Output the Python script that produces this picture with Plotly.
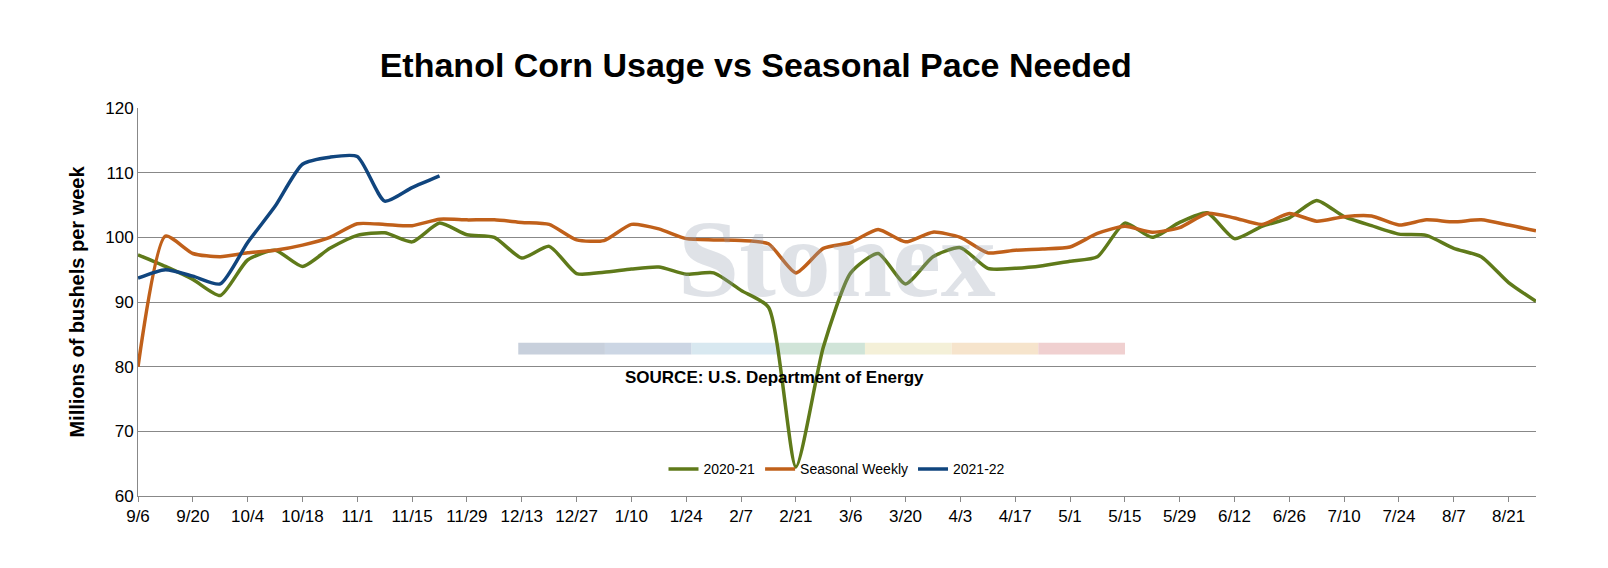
import pandas as pd
import plotly.graph_objects as go

# Weekly values (Millions of bushels per week)
labels = ['9/6', '9/20', '10/4', '10/18', '11/1', '11/15', '11/29', '12/13', '12/27', '1/10', '1/24', '2/7', '2/21',
          '3/6', '3/20', '4/3', '4/17', '5/1', '5/15', '5/29', '6/12', '6/26', '7/10', '7/24', '8/7', '8/21']
weeks = list(range(52))
data = pd.DataFrame({
    'Week': weeks,
    '2020-21': [97.3, 95.5, 93.5, 91.0, 96.5, 98.0, 95.5, 98.3, 100.3, 100.7, 99.3, 102.2, 100.4, 100.0,
                96.8, 98.6, 94.4, 94.6, 95.1, 95.4, 94.3, 94.5, 91.8, 89.2, 64.5, 83.0, 94.5, 97.5, 92.8,
                97.0, 98.4, 95.2, 95.2, 95.6, 96.3, 97.0, 102.2, 100.0, 102.3, 103.8, 99.8, 101.7, 103.0,
                105.7, 103.2, 101.8, 100.5, 100.3, 98.3, 97.0, 93.0, 90.1],
    'Seasonal Weekly': [80.0, 100.2, 97.5, 97.0, 97.6, 98.0, 98.8, 100.0, 102.1, 102.0, 101.8, 102.8, 102.7,
                        102.7, 102.3, 102.0, 99.6, 99.5, 102.0, 101.3, 99.8, 99.6, 99.5, 99.0, 94.5, 98.3,
                        99.2, 101.2, 99.3, 100.8, 100.0, 97.6, 98.0, 98.2, 98.5, 100.6, 101.7, 100.8, 101.5,
                        103.7, 103.0, 102.0, 103.7, 102.5, 103.2, 103.3, 101.9, 102.7, 102.4, 102.7, 101.9, 101.0],
})
blue = [93.7, 95.0, 94.0, 92.8, 99.2, 104.8, 111.3, 112.4, 112.5, 105.6, 107.7, 109.5]
data['2021-22'] = blue + [None] * (52 - len(blue))

colors = {'2020-21': '#5f7a1a', 'Seasonal Weekly': '#c0601a', '2021-22': '#10457e'}

fig = go.Figure()
for col in ['2020-21', 'Seasonal Weekly', '2021-22']:
    fig.add_trace(go.Scatter(x=data['Week'], y=data[col], name=col, mode='lines',
                             line=dict(color=colors[col], width=3.5, shape='spline', smoothing=0.6)))

# Watermark and source note
fig.add_annotation(x=0.5, y=0.61, xref='paper', yref='paper', text='<b>Stonex</b>', showarrow=False,
                   font=dict(family='Liberation Serif', size=110, color='rgba(150,160,175,0.3)'))
bar_cols = ['#c8d0dc', '#ccd6e4', '#d8e8f0', '#d0e4d8', '#f4f0d8', '#f6e4cc', '#f0d0d0']
for k, c in enumerate(bar_cols):
    fig.add_shape(type='rect', xref='paper', yref='paper', x0=0.272 + k * 0.062, x1=0.272 + (k + 1) * 0.062,
                  y0=0.365, y1=0.395, fillcolor=c, line_width=0, layer='below')
fig.add_annotation(x=0.455, y=0.275, xref='paper', yref='paper', text='<b>SOURCE: U.S. Department of Energy</b>',
                   showarrow=False, font=dict(family='Liberation Sans', size=17, color='black'))

fig.update_layout(
    title=dict(text='<b>Ethanol Corn Usage vs Seasonal Pace Needed</b>', x=0.465, y=0.92,
               font=dict(family='Liberation Sans', size=34, color='black')),
    width=1608, height=568, plot_bgcolor='white', paper_bgcolor='white',
    margin=dict(l=130, r=80, t=100, b=80),
    font=dict(family='Liberation Sans', size=17, color='black'),
    legend=dict(orientation='h', x=0.5, xanchor='center', y=0.11, bgcolor='rgba(0,0,0,0)', font=dict(size=14)),
)
fig.update_xaxes(tickvals=weeks[::2], ticktext=labels, showgrid=False, showline=True, linecolor='#888',
                 ticks='outside', tickcolor='#888', range=[0, 51])
fig.update_yaxes(title_text='<b>Millions of bushels per week</b>', range=[60, 120], dtick=10,
                 gridcolor='#888', showline=True, linecolor='#888', zeroline=False)

fig.write_html("out.html")
